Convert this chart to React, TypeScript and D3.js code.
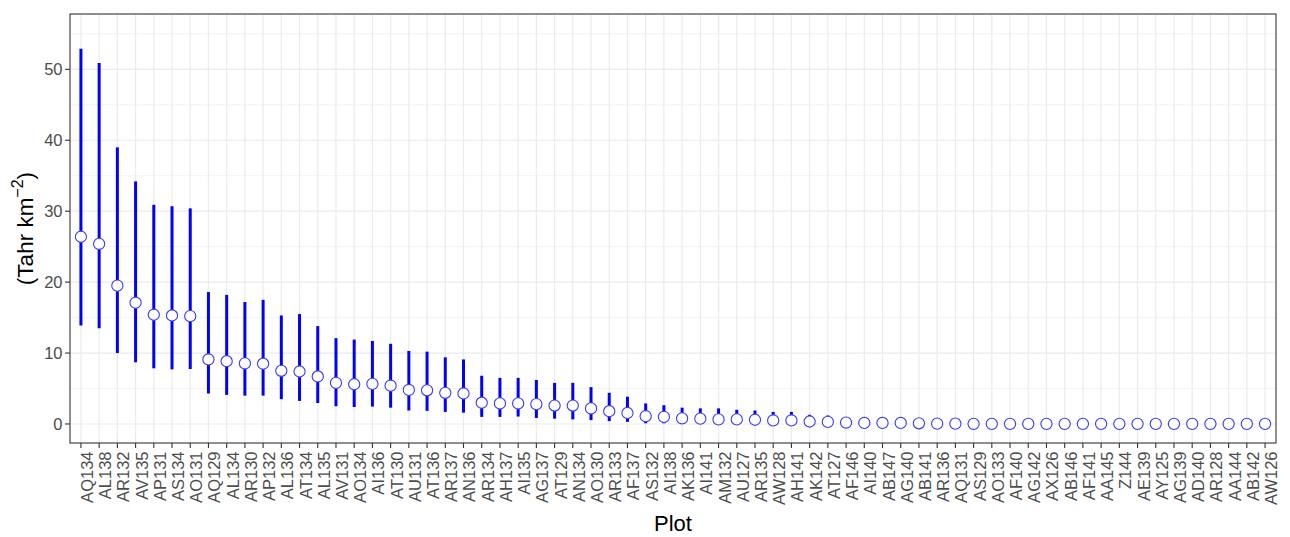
import React from "react";
import * as d3 from "d3";

const plots = [
  "AQ134","AL138","AR132","AV135","AP131","AS134","AO131","AQ129","AL134","AR130","AP132","AL136","AT134","AL135","AV131","AO134",
  "AI136","AT130","AU131","AT136","AR137","AN136","AR134","AH137","AI135","AG137","AT129","AN134","AO130","AR133","AF137","AS132",
  "AI138","AK136","AI141","AM132","AU127","AR135","AW128","AH141","AK142","AT127","AF146","AI140","AB147","AG140","AB141","AR136","AQ131",
  "AS129","AO133","AF140","AG142","AX126","AB146","AF141","AA145","Z144","AE139","AY125","AG139","AD140","AR128","AA144","AB142","AW126",
];

const means = [
  26.4,25.4,19.5,17.1,15.4,15.3,15.2,9.1,8.85,8.55,8.5,7.5,7.4,6.7,5.8,5.6,
  5.65,5.4,4.8,4.75,4.4,4.3,3.0,2.9,2.9,2.8,2.6,2.6,2.2,1.8,1.55,1.1,
  1.0,0.8,0.75,0.65,0.65,0.6,0.5,0.5,0.35,0.3,0.2,0.15,0.15,0.15,0.1,0.05,0.05,
  0.02,0.02,0.02,0.02,0.02,0.02,0.02,0.02,0.02,0.02,0.02,0.02,0.02,0.02,0.02,0.02,0.02,
];

const lowers = [
  13.9,13.5,10.0,8.7,7.85,7.7,7.75,4.3,4.1,4.0,4.0,3.5,3.25,2.95,2.5,2.4,
  2.45,2.3,1.9,1.85,1.7,1.6,1.0,1.0,1.05,0.85,0.75,0.65,0.55,0.4,0.3,0.1,
  0.1,0.05,0.05,0.05,0.03,0.03,0.02,0.02,0.01,0.01,0,0,0,0,0,0,0,
  0,0,0,0,0,0,0,0,0,0,0,0,0,0,0,0,0,
];

const uppers = [
  52.9,50.9,39.0,34.2,30.9,30.7,30.4,18.6,18.2,17.2,17.5,15.3,15.5,13.8,12.1,11.9,
  11.7,11.3,10.3,10.2,9.4,9.1,6.8,6.5,6.5,6.2,5.8,5.8,5.2,4.4,3.85,2.9,
  2.65,2.3,2.2,2.2,2.0,1.9,1.7,1.7,1.3,1.2,0.8,0.6,0.6,0.6,0.4,0.3,0.3,
  0.1,0.1,0.1,0.1,0.1,0.1,0.1,0.1,0.1,0.1,0.1,0.1,0.1,0.1,0.1,0.1,0.1,
];

const yTicks = [0, 10, 20, 30, 40, 50];
const yMinor = [5, 15, 25, 35, 45, 55];

const W = 1290;
const H = 537;
const left = 70;
const right = 1276;
const top = 14;
const bottom = 443;
const FONT = "'Liberation Sans', Arial, sans-serif";

export default function App() {
  const x = d3.scalePoint<string>().domain(plots).range([left, right]).padding(0.6);
  const y = d3.scaleLinear().domain([-2.68, 57.8]).range([bottom, top]);

  return (
    <svg width={W} height={H} style={{ position: "absolute", left: 0, top: 0, background: "#fff" }}>
      <rect x={0} y={0} width={W} height={H} fill="#fff" />
      {/* minor grid */}
      {yMinor.map((v) => (
        <line key={"ym" + v} x1={left} x2={right} y1={y(v)} y2={y(v)} stroke="#ebebeb" strokeWidth={0.6} />
      ))}
      {/* major grid */}
      {yTicks.map((v) => (
        <line key={"yM" + v} x1={left} x2={right} y1={y(v)} y2={y(v)} stroke="#ebebeb" strokeWidth={1.2} />
      ))}
      {plots.map((p) => (
        <line key={"xg" + p} x1={x(p)} x2={x(p)} y1={top} y2={bottom} stroke="#ebebeb" strokeWidth={1.2} />
      ))}
      {/* error bars */}
      {plots.map((p, i) => (
        <line key={"eb" + p} x1={x(p)} x2={x(p)} y1={y(lowers[i])} y2={y(uppers[i])} stroke="#0000ff" strokeWidth={3} />
      ))}
      {/* points */}
      {plots.map((p, i) => (
        <circle key={"pt" + p} cx={x(p)} cy={y(means[i])} r={5.6} fill="#ffffff" stroke="#3a3aff" strokeWidth={1.1} />
      ))}
      {/* panel border */}
      <rect x={left} y={top} width={right - left} height={bottom - top} fill="none" stroke="#333333" strokeWidth={1.1} />
      {/* y axis ticks & labels */}
      {yTicks.map((v) => (
        <g key={"yt" + v}>
          <line x1={left - 5} x2={left} y1={y(v)} y2={y(v)} stroke="#333333" strokeWidth={1.1} />
          <text x={left - 7.5} y={y(v) + 5.9} textAnchor="end" fontFamily={FONT} fontSize={16.5} fill="#4d4d4d">
            {v}
          </text>
        </g>
      ))}
      {/* x axis ticks & labels */}
      {plots.map((p) => (
        <g key={"xt" + p}>
          <line x1={x(p)} x2={x(p)} y1={bottom} y2={bottom + 5} stroke="#333333" strokeWidth={1.1} />
          <text
            transform={`translate(${(x(p) as number) + 12},${bottom + 8.5}) rotate(-90)`}
            textAnchor="end"
            fontFamily={FONT}
            fontSize={16.5}
            fill="#4d4d4d"
          >
            {p}
          </text>
        </g>
      ))}
      {/* axis titles */}
      <text x={(left + right) / 2} y={530.5} textAnchor="middle" fontFamily={FONT} fontSize={22} fill="#000">
        Plot
      </text>
      <text
        transform={`translate(33,${(top + bottom) / 2}) rotate(-90)`}
        textAnchor="middle"
        fontFamily={FONT}
        fontSize={22.5}
        fill="#000"
      >
        (Tahr km
        <tspan fontSize={16} dy={-10}>−2</tspan>
        <tspan dy={10}>)</tspan>
      </text>
    </svg>
  );
}
